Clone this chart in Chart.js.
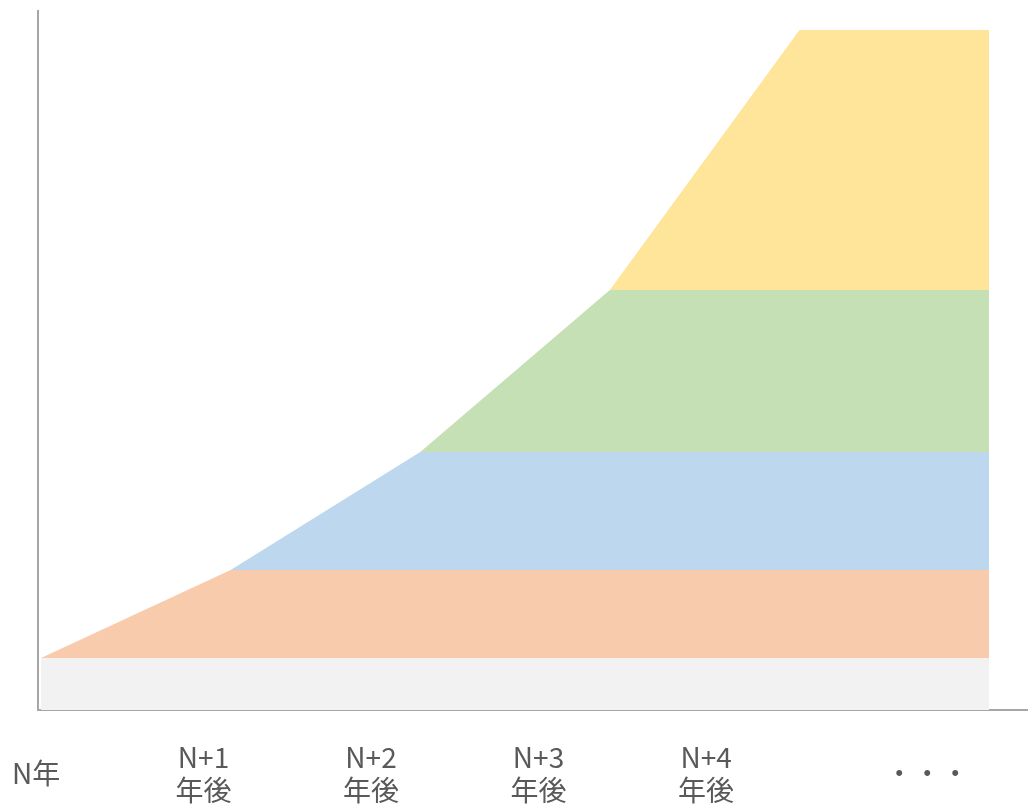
<!DOCTYPE html>
<html>
<head>
<meta charset="utf-8">
<script src="https://cdn.jsdelivr.net/npm/chart.js@4"></script>
<style>
  body { margin: 0; background: #fff; }
  canvas { display: block; }
</style>
</head>
<body>
<canvas id="chart" width="1028" height="805"></canvas>
<script>
// 年ごとに積み上がる層（下から順に）
const periods = [0, 1, 2, 3, 4, 5]
const baseLayer = [52, 52, 52, 52, 52, 52]
const layer1 = [0, 88, 88, 88, 88, 88]
const layer2 = [0, 0, 118, 118, 118, 118]
const layer3 = [0, 0, 0, 162, 162, 162]
const layer4 = [0, 0, 0, 0, 260, 260]

// 下の目盛り（位置は別の軸で持つ）
const tickLabels = [['N年'], ['N+1', '年後'], ['N+2', '年後'], ['N+3', '年後'], ['N+4', '年後'], ['・・・']]
const tickPositions = [0, 1, 2, 3, 4, 5.32]

const layers = [
  { data: baseLayer, color: '#f2f2f2' },
  { data: layer1, color: '#f8cbad' },
  { data: layer2, color: '#bdd7ee' },
  { data: layer3, color: '#c5e0b4' },
  { data: layer4, color: '#ffe599' }
]

const axisColor = '#a6a6a6'
const ctx = document.getElementById('chart').getContext('2d')

new Chart(ctx, {
  type: 'line',
  data: {
    datasets: layers.map((layer, i) => ({
      data: layer.data.map((v, j) => ({ x: periods[j], y: v })),
      backgroundColor: layer.color,
      borderWidth: 0,
      pointRadius: 0,
      tension: 0,
      fill: i === 0 ? 'origin' : '-1'
    }))
  },
  options: {
    responsive: false,
    animation: false,
    layout: { padding: { left: 38, top: 11, right: 0, bottom: 0 } },
    scales: {
      // データ用の軸（線だけ表示）
      x: {
        type: 'linear',
        position: 'bottom',
        weight: 0,
        min: -0.0158,
        max: 5.205,
        afterFit: axis => {
          axis.height = 0
          axis.paddingLeft = 0
          axis.paddingRight = 0
        },
        grid: { display: false, drawTicks: false },
        border: { display: true, color: axisColor, width: 2 },
        ticks: { display: false }
      },
      // ラベル用の軸
      labels: {
        type: 'linear',
        position: 'bottom',
        weight: 1,
        min: 0.0119,
        max: 5.922,
        afterBuildTicks: axis => {
          axis.ticks = tickPositions.map(v => ({ value: v }))
        },
        afterFit: axis => {
          axis.height = 95
          axis.paddingLeft = 0
          axis.paddingRight = 0
        },
        grid: { display: false, drawTicks: false },
        border: { display: false },
        ticks: {
          autoSkip: false,
          maxRotation: 0,
          padding: 47,
          crossAlign: 'center',
          color: '#595959',
          font: { family: '"Noto Sans CJK JP", "Noto Sans", sans-serif', size: 28, lineHeight: 1.18 },
          callback: (value, index) => tickLabels[index]
        }
      },
      y: {
        stacked: true,
        min: 0,
        max: 699,
        afterFit: axis => {
          axis.width = 0
        },
        grid: { display: false, drawTicks: false },
        border: { display: true, color: axisColor, width: 2 },
        ticks: { display: false }
      }
    },
    plugins: {
      legend: { display: false },
      tooltip: { enabled: false }
    }
  }
})
</script>
</body>
</html>
